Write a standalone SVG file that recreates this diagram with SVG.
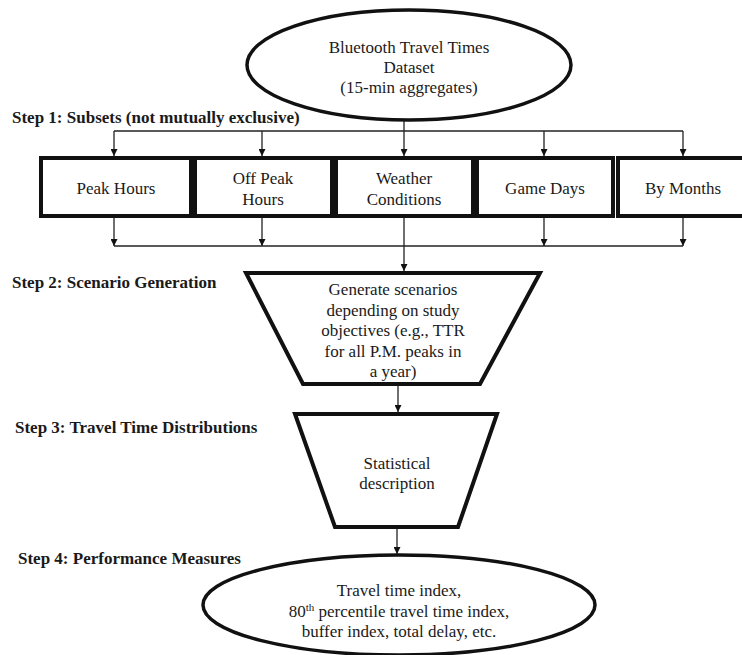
<svg xmlns="http://www.w3.org/2000/svg" width="742" height="655" viewBox="0 0 742 655">
<defs>
<style>
.t{font-family:"Liberation Serif","Times New Roman",serif;font-size:17px;fill:#1a1a1a;text-anchor:middle}
.s{font-family:"Liberation Serif","Times New Roman",serif;font-size:17px;font-weight:bold;fill:#1a1a1a}
.n{fill:#fff;stroke:#111;stroke-width:4}
.e{fill:#fff;stroke:#111;stroke-width:3.5}
.c{fill:none;stroke:#222;stroke-width:1.3}
</style>
<marker id="ah" viewBox="0 0 10 10" refX="10" refY="5" markerWidth="7" markerHeight="7" markerUnits="userSpaceOnUse" orient="auto">
<path d="M0,0 L10,5 L0,10 z" fill="#111"/>
</marker>
</defs>
<rect width="742" height="655" fill="#fff"/>

<g id="labels">
<text class="s" x="12" y="123">Step 1: Subsets (not mutually exclusive)</text>
<text class="s" x="12" y="288">Step 2: Scenario Generation</text>
<text class="s" x="15" y="433">Step 3: Travel Time Distributions</text>
<text class="s" x="18" y="564">Step 4: Performance Measures</text>
</g>

<g id="connectors">
<path class="c" d="M404,120 V131"/>
<path class="c" d="M114,131 H683"/>
<path class="c" d="M114,131 V156" marker-end="url(#ah)"/>
<path class="c" d="M262,131 V156" marker-end="url(#ah)"/>
<path class="c" d="M404,131 V156" marker-end="url(#ah)"/>
<path class="c" d="M544,131 V156" marker-end="url(#ah)"/>
<path class="c" d="M683,131 V156" marker-end="url(#ah)"/>
<path class="c" d="M114,216 V246" marker-end="url(#ah)"/>
<path class="c" d="M262,216 V246" marker-end="url(#ah)"/>
<path class="c" d="M544,216 V246" marker-end="url(#ah)"/>
<path class="c" d="M683,216 V246" marker-end="url(#ah)"/>
<path class="c" d="M114,246 H683"/>
<path class="c" d="M404,216 V271" marker-end="url(#ah)"/>
<path class="c" d="M398,385 V412" marker-end="url(#ah)"/>
<path class="c" d="M397,528 V554" marker-end="url(#ah)"/>
</g>

<g id="dataset">
<ellipse class="e" cx="409" cy="65" rx="162" ry="55"/>
<text class="t" x="409" y="53">Bluetooth Travel Times</text>
<text class="t" x="409" y="73">Dataset</text>
<text class="t" x="409" y="93">(15-min aggregates)</text>
</g>

<g id="peak-hours">
<rect class="n" x="41" y="158" width="150" height="58"/>
<text class="t" x="116" y="194">Peak Hours</text>
</g>
<g id="off-peak-hours">
<rect class="n" x="195" y="158" width="137" height="58"/>
<text class="t" x="263" y="184">Off Peak</text>
<text class="t" x="263" y="205">Hours</text>
</g>
<g id="weather-conditions">
<rect class="n" x="336" y="158" width="137" height="58"/>
<text class="t" x="404" y="184">Weather</text>
<text class="t" x="404" y="205">Conditions</text>
</g>
<g id="game-days">
<rect class="n" x="477" y="158" width="136" height="58"/>
<text class="t" x="545" y="194">Game Days</text>
</g>
<g id="by-months">
<rect class="n" x="618" y="158" width="130" height="58"/>
<text class="t" x="683" y="194">By Months</text>
</g>

<g id="scenario-generation">
<polygon class="n" points="246,273 540,273 480,384 303,384"/>
<text class="t" x="393" y="295">Generate scenarios</text>
<text class="t" x="393" y="315.5">depending on study</text>
<text class="t" x="393" y="336">objectives (e.g., TTR</text>
<text class="t" x="393" y="356.5">for all P.M. peaks in</text>
<text class="t" x="393" y="377">a year)</text>
</g>

<g id="statistical-description">
<polygon class="n" points="295,414 497,414 458,527 335,527"/>
<text class="t" x="397" y="469">Statistical</text>
<text class="t" x="397" y="489">description</text>
</g>

<g id="performance-measures">
<ellipse class="e" cx="399" cy="605" rx="196" ry="50"/>
<text class="t" x="399" y="596">Travel time index,</text>
<text class="t" x="399" y="616.5">80<tspan font-size="11" dy="-6">th</tspan><tspan dy="6"> percentile travel time index,</tspan></text>
<text class="t" x="399" y="637">buffer index, total delay, etc.</text>
</g>
</svg>
